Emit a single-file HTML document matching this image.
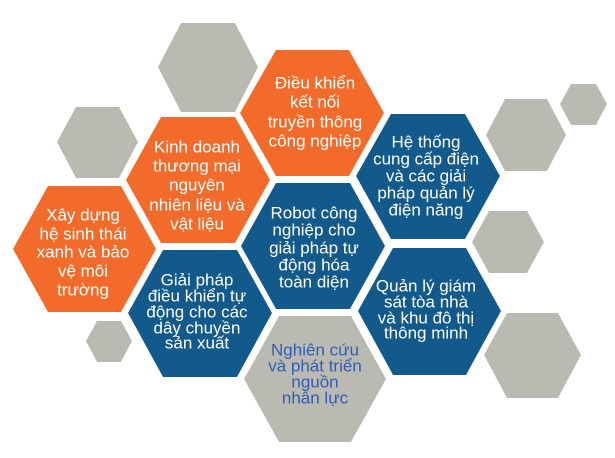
<!DOCTYPE html>
<html><head><meta charset="utf-8"><style>
html,body{margin:0;padding:0;background:#fff;}
svg{display:block;}
text{font-family:"Liberation Sans Narrow","Liberation Sans",sans-serif;font-size:17px;text-anchor:middle;dominant-baseline:central;fill:#fff;}
</style></head><body>
<svg width="615" height="458" viewBox="0 0 615 458" xmlns="http://www.w3.org/2000/svg">
<g fill="#BBBAB2">
<polygon points="158,67 181,23 235,23 258,67 235,112 181,112"/>
<polygon points="560,104 571,84 596,84 607,104 596,125 571,125"/>
<polygon points="486,135 505,99 547,99 566,135 547,171 505,171"/>
<polygon points="57,142 76,107 119,107 138,142 119,178 76,178"/>
<polygon points="472,242 489,211 527,211 544,242 527,273 489,273"/>
<polygon points="86,341 97,321 121,321 132,341 121,362 97,362"/>
<polygon points="484,355 507,313 558,313 581,355 558,398 507,398"/>
<polygon points="244,379 279,316 351,316 386,379 351,442 279,442"/>
</g>
<g fill="#F26B2A">
<polygon points="240,113 276,50 349,50 384,113 349,176 276,176"/>
<polygon points="126,180 161,117 235,117 270,180 235,243 161,243"/>
<polygon points="13,249 48,186 121,186 156,249 121,312 48,312"/>
</g>
<g fill="#135A8C">
<polygon points="356,176 391,114 465,114 500,176 465,239 391,239"/>
<polygon points="241,246 276,183 350,183 385,246 350,309 276,309"/>
<polygon points="128,313 163,250 237,250 272,313 237,377 163,377"/>
<polygon points="358,311 393,248 466,248 501,311 466,375 393,375"/>
</g>
<text x="315" y="83">Điều khiển</text><text x="315" y="102">kết nối</text><text x="315" y="122">truyền thông</text><text x="315" y="141">công nghiệp</text>
<text x="197" y="147">Kinh doanh</text><text x="197" y="166">thương mại</text><text x="197" y="185">nguyên</text><text x="197" y="205">nhiên liệu và</text><text x="197" y="224">vật liệu</text>
<text x="426" y="142">Hệ thống</text><text x="426" y="159">cung cấp điện</text><text x="426" y="176">và các giải</text><text x="426" y="193">pháp quản lý</text><text x="426" y="210">điện năng</text>
<text x="83" y="215">Xây dựng</text><text x="83" y="234">hệ sinh thái</text><text x="83" y="252">xanh và bảo</text><text x="83" y="271">vệ môi</text><text x="83" y="290">trường</text>
<text x="314" y="213">Robot công</text><text x="314" y="230">nghiệp cho</text><text x="314" y="248">giải pháp tự</text><text x="314" y="265">động hóa</text><text x="314" y="282">toàn diện</text>
<text x="197" y="280">Giải pháp</text><text x="197" y="296">điều khiển tự</text><text x="197" y="312">động cho các</text><text x="197" y="328">dây chuyền</text><text x="197" y="343">sản xuất</text>
<text x="426" y="286">Quản lý giám</text><text x="426" y="302">sát tòa nhà</text><text x="426" y="318">và khu đô thị</text><text x="426" y="333">thông minh</text>
<g style="fill:#2F5DB5">
<text x="315" y="350" style="fill:#2F5DB5">Nghiên cứu</text><text x="315" y="366" style="fill:#2F5DB5">và phát triển</text><text x="315" y="382" style="fill:#2F5DB5">nguồn</text><text x="315" y="398" style="fill:#2F5DB5">nhân lực</text>
</g>
</svg>
</body></html>
